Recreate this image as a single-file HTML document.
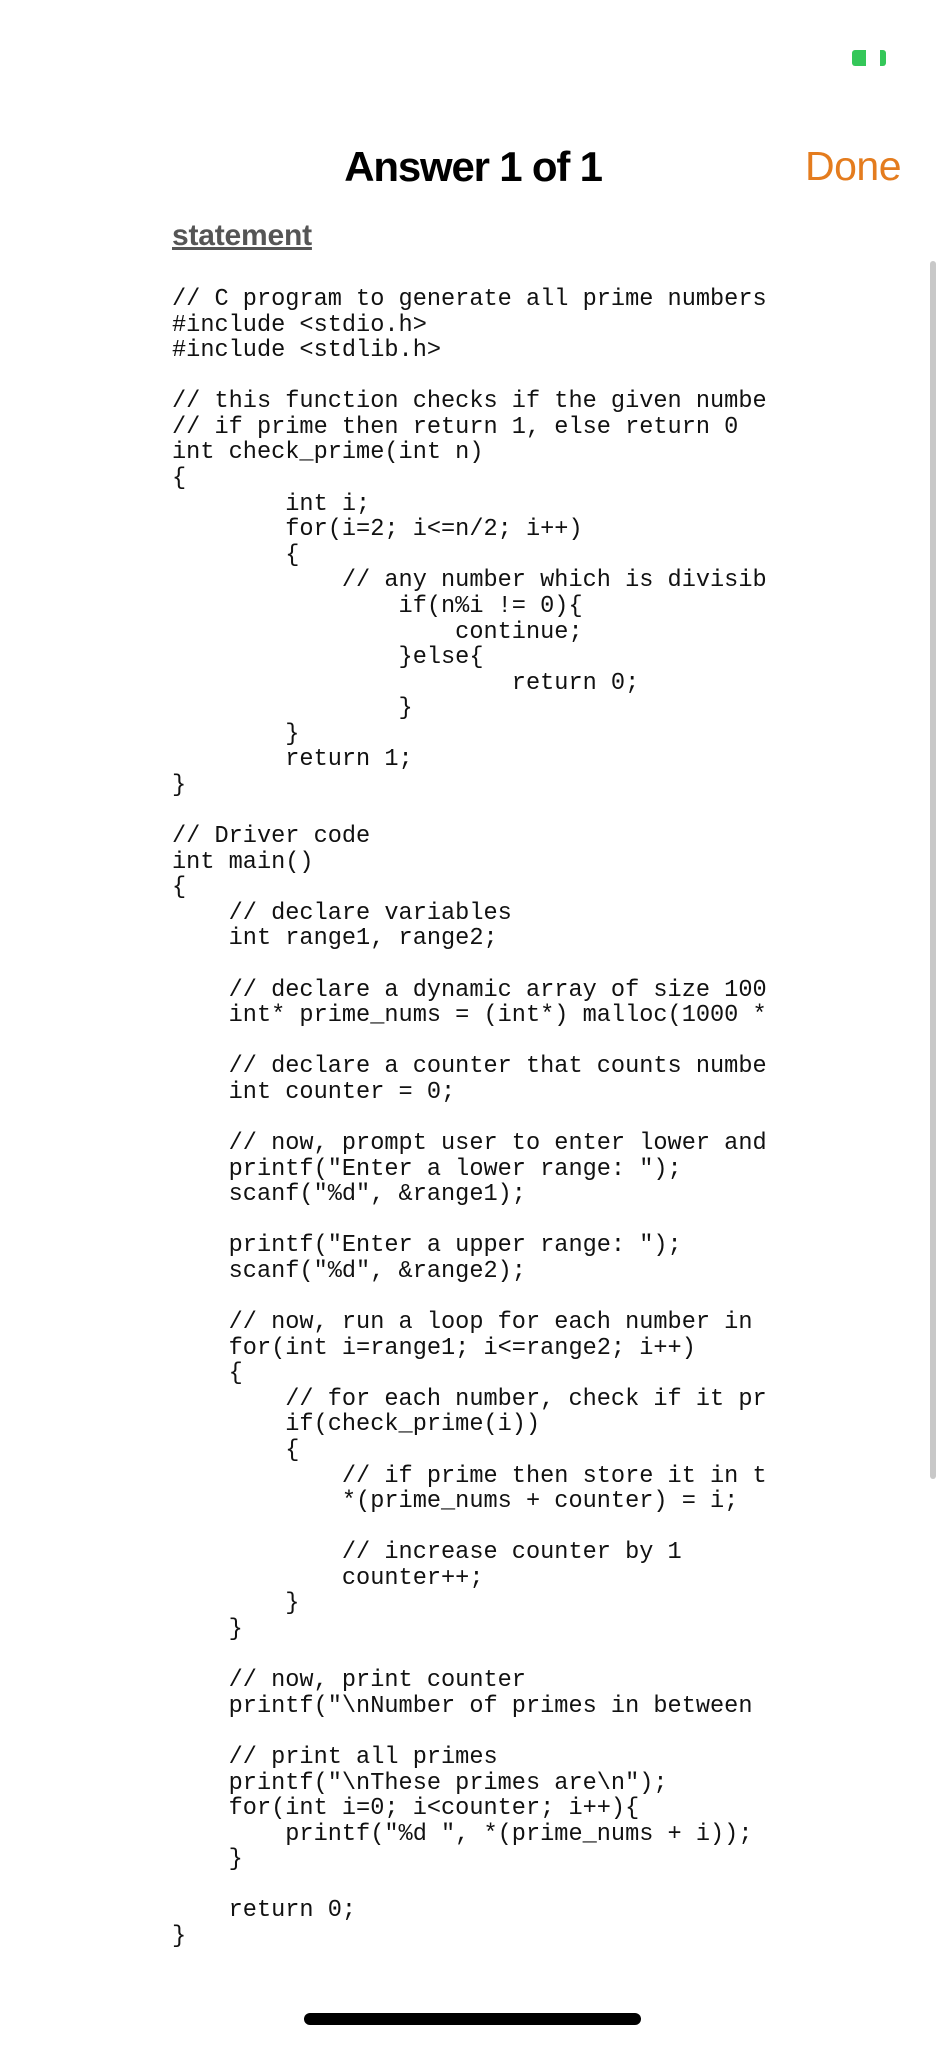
<!DOCTYPE html>
<html><head><meta charset="utf-8"><style>
body{margin:0;width:946px;height:2048px;background:#fff;position:relative;overflow:hidden;font-family:"Liberation Sans",sans-serif}
.t{position:absolute;left:0;width:946px;text-align:center;top:143px;font-size:42px;font-weight:bold;letter-spacing:-1.2px;color:#000}
.done{position:absolute;left:805px;top:143px;font-size:41px;color:#E47C1E;letter-spacing:-0.5px}
.st{position:absolute;left:172px;top:219px;font-size:30px;font-weight:bold;color:#555;text-decoration:underline;letter-spacing:-0.2px}
pre{position:absolute;left:172px;top:287px;width:596px;overflow:hidden;margin:0;font-family:"Liberation Mono",monospace;font-size:23.6px;line-height:25.58px;color:#111}
.sb{position:absolute;left:930px;top:261px;width:6px;height:1218px;border-radius:3px;background:#c8c8c8}
.home{position:absolute;left:304px;top:2013px;width:337px;height:12px;border-radius:6px;background:#000}
.bat{position:absolute;left:852px;top:50px;width:14px;height:16px;background:#34c759;border-radius:3px 0 0 3px}
.bat2{position:absolute;left:880px;top:50px;width:6px;height:16px;background:#34c759;border-radius:0 3px 3px 0}
</style></head><body>
<div class="bat"></div><div class="bat2"></div>
<div class="t">Answer 1 of 1</div>
<div class="done">Done</div>
<div class="st">statement</div>
<div class="sb"></div>
<pre>// C program to generate all prime numbers
#include &lt;stdio.h&gt;
#include &lt;stdlib.h&gt;

// this function checks if the given number
// if prime then return 1, else return 0
int check_prime(int n)
{
        int i;
        for(i=2; i&lt;=n/2; i++)
        {
            // any number which is divisible
                if(n%i != 0){
                    continue;
                }else{
                        return 0;
                }
        }
        return 1;
}

// Driver code
int main()
{
    // declare variables
    int range1, range2;

    // declare a dynamic array of size 1000
    int* prime_nums = (int*) malloc(1000 * sizeof(int));

    // declare a counter that counts numbers
    int counter = 0;

    // now, prompt user to enter lower and upper
    printf("Enter a lower range: ");
    scanf("%d", &amp;range1);

    printf("Enter a upper range: ");
    scanf("%d", &amp;range2);

    // now, run a loop for each number in range
    for(int i=range1; i&lt;=range2; i++)
    {
        // for each number, check if it prime
        if(check_prime(i))
        {
            // if prime then store it in the array
            *(prime_nums + counter) = i;

            // increase counter by 1
            counter++;
        }
    }

    // now, print counter
    printf("\nNumber of primes in between

    // print all primes
    printf("\nThese primes are\n");
    for(int i=0; i&lt;counter; i++){
        printf("%d ", *(prime_nums + i));
    }

    return 0;
}</pre>
<div class="home"></div>
</body></html>
